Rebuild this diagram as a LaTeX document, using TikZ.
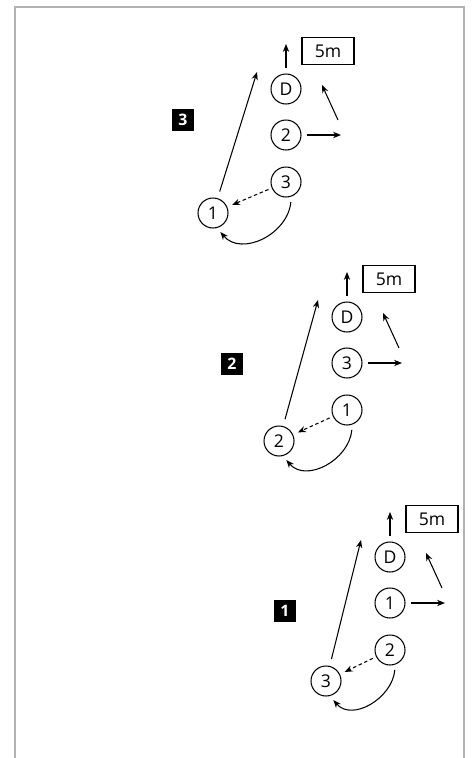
\documentclass[tikz,border=0pt]{standalone}
\usepackage{fontspec}
\setmainfont{Open Sans}
\usetikzlibrary{arrows.meta}

\begin{document}
\begin{tikzpicture}[x=0.02cm,y=-0.02cm,
  player/.style={circle,draw,line width=0.6pt,minimum size=0.6cm,inner sep=0pt,font=\normalsize},
  dist/.style={draw,line width=0.6pt,minimum width=1.04cm,minimum height=0.55cm,inner sep=0pt,font=\normalsize},
  tag/.style={fill=black,text=white,minimum size=0.45cm,inner sep=0pt,font=\small\bfseries},
  run/.style={-{Stealth[length=4.5pt,width=3.6pt]},line width=0.6pt},
  pass/.style={run,dash pattern=on 2pt off 1.5pt}]

\useasboundingbox (0,0) rectangle (471,758);
\draw[gray!60,line width=1.1pt] (15,780) -- (15,7) -- (464,7) -- (464,780);

\foreach \g/\dx/\dy/\a/\b/\c/\lx/\tx/\ty in {3/286/89/2/3/1/-73/183/120,
    2/347/317/3/1/2/-68/232/364, 1/390/557/1/2/3/-64/285/611}
{
  \node[tag] (t\g) at (\tx,\ty) {\g};
  \begin{scope}[shift={(\dx,\dy)}]
    \node[player] (D\g) at (0,0) {D};
    \node[player] (m\g) at (0,46) {\a};
    \node[player] (b\g) at (0,93) {\b};
    \node[player] (l\g) at (\lx,124) {\c};
    \node[dist] (d\g) at (42,-38) {5m};
    \coordinate (up\g) at (0,-45);
    \coordinate (go\g) at (-29,-17);
    \coordinate (out\g) at (55,46);
    \coordinate (back\g) at (52,31);
    \coordinate (in\g) at (36,-4);
  \end{scope}
  \draw[run,shorten <=3pt] (D\g) -- (up\g);
  \draw[run,shorten <=4pt] (l\g) -- (go\g);
  \draw[run,shorten <=3pt] (m\g) -- (out\g);
  \draw[run] (back\g) -- (in\g);
  \draw[pass,shorten >=3pt,shorten <=2pt] (b\g) -- (l\g);
  \draw[run,shorten <=3pt,shorten >=3pt] (b\g.-70) to[out=-95,in=-50,looseness=1.2] (l\g.-75);
}

\end{tikzpicture}
\end{document}
